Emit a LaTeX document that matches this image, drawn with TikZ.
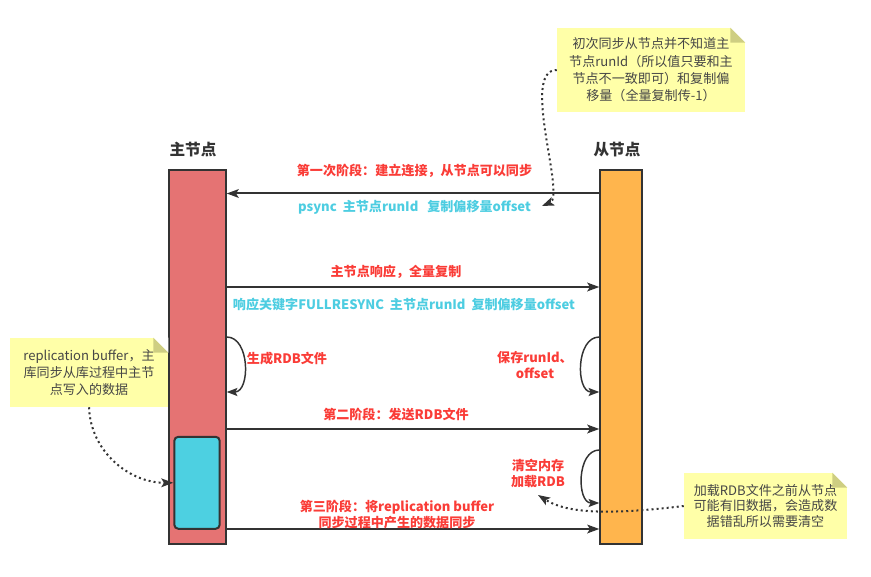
\documentclass[tikz,border=0pt]{standalone}
\usepackage{fontspec}
\setmainfont{Noto Sans CJK SC}
\usetikzlibrary{arrows.meta}
\definecolor{mstred}{RGB}{229,115,115}
\definecolor{slvorange}{RGB}{255,181,77}
\definecolor{bufcyan}{RGB}{77,208,225}
\definecolor{txtred}{RGB}{250,60,55}
\definecolor{txtcyan}{RGB}{77,205,225}
\definecolor{notebg}{RGB}{255,255,168}
\definecolor{notefold}{RGB}{206,206,130}
\definecolor{linedark}{RGB}{51,51,51}
\definecolor{notetext}{RGB}{70,70,70}

\begin{document}
\begin{tikzpicture}[
      x=0.75pt, y=-0.75pt,
      bar/.style={rectangle, draw=linedark, line width=1.5pt, inner sep=0pt, minimum height=280.5pt},
      head/.style={font=\fontsize{11.7}{14}\selectfont\bfseries, text=linedark},
      msg/.style={-{Stealth[length=9pt, width=6.5pt, inset=2pt]}, line width=1.5pt, color=linedark},
      selfloop/.style={-{Stealth[length=8pt, width=6pt, inset=1.5pt]}, line width=1.1pt, color=linedark, looseness=1.1},
      hint/.style={-{Stealth[length=9pt, width=6.5pt, inset=2pt]}, line width=1.5pt, dash pattern=on 1.5pt off 2.3pt, color=linedark},
      redlbl/.style={font=\fontsize{9.8}{12}\selectfont\bfseries, text=txtred, align=center},
      cyanlbl/.style={font=\fontsize{9.8}{12}\selectfont\bfseries, text=txtcyan, align=center},
      note/.style={rectangle, fill=notebg, inner sep=0pt, align=center, text=notetext, font=\fontsize{9.8}{13}\selectfont}
    ]
      \useasboundingbox (0,0) rectangle (871,577);

      % Master & Slave
      \node[bar, fill=mstred, minimum width=42.75pt] (master) at (197.2,357.2) {};
      \node[bar, fill=slvorange, minimum width=31.5pt] (slave) at (621.3,357.2) {};
      \node[rectangle, rounded corners=3pt, draw=linedark, line width=1.5pt, fill=bufcyan, minimum width=34pt, minimum height=69pt] (buffer) at (197,482.8) {};
      \node[head] (mlabel) at (193,150) {主节点};
      \node[head] (slabel) at (617,150) {从节点};

      % Notes
      \node[note, minimum width=141pt, minimum height=63pt] (topnote) at (651,70) {初次同步从节点并不知道主\\节点runId（所以值只要和主\\节点不一致即可）和复制偏\\移量（全量复制传-1）};
      \node[note, minimum width=118.5pt, minimum height=51.75pt] (bufnote) at (89,372.5) {replication buffer，主\\库同步从库过程中主节\\点写入的数据};
      \node[note, minimum width=122.25pt, minimum height=49.5pt, font=\fontsize{9.8}{11.4}\selectfont] (rdbnote) at (765.5,506) {加载RDB文件之前从节点\\可能有旧数据，会造成数\\据错乱所以需要清空};
      \foreach \n in {topnote,bufnote,rdbnote} {
        \fill[white] (\n.north east) ++(-15,0) -- (\n.north east) -- ++(0,15) -- cycle;
        \fill[notefold] (\n.north east) ++(-15,0) -- ++(0,15) -- ++(15,0) -- cycle;
      }

      % Stage 1
      \draw[msg] (slave.west |- 0,193.5) -- (master.east |- 0,193.5);
      \node[redlbl] (s1lbl) at (414.5,171) {第一次阶段：建立连接，从节点可以同步};
      \node[cyanlbl] (psynclbl) at (414.5,207) {psync\ \ 主节点runId\ \ \ 复制偏移量offset};

      \draw[msg] (master.east |- 0,287) -- (slave.west |- 0,287);
      \node[redlbl] (fulllbl) at (396,272) {主节点响应，全量复制};
      \node[cyanlbl] (resynclbl) at (404,305) {响应关键字FULLRESYNC\ \ 主节点runId\ \ 复制偏移量offset};

      % RDB generation / save
      \draw[selfloop] (master.east |- 0,337) to[out=0, in=0] (master.east |- 0,392);
      \node[redlbl] (genlbl) at (287,359) {生成RDB文件};
      \draw[selfloop] (slave.west |- 0,337) to[out=180, in=180] (slave.west |- 0,392);
      \node[redlbl] (savelbl) at (535,365) {保存runId、\\offset};

      % Stage 2
      \draw[msg] (master.east |- 0,429) -- (slave.west |- 0,429);
      \node[redlbl] (s2lbl) at (396,415) {第二阶段：发送RDB文件};
      \draw[selfloop] (slave.west |- 0,450) to[out=180, in=180] (slave.west |- 0,503);
      \node[redlbl] (loadlbl) at (538,474) {清空内存\\加载RDB};

      % Stage 3
      \draw[msg] (master.east |- 0,529) -- (slave.west |- 0,529);
      \node[redlbl] (s3lbl) at (397,514.5) {第三阶段：将replication buffer\\同步过程中产生的数据同步};

      % Hints
      \coordinate (psyncend) at (542,206);
      \coordinate (loadend) at (538,495);
      \draw[hint] (topnote.west) .. controls (520,70) and (566,196) .. (psyncend);
      \draw[hint] (bufnote.south) to[out=-88, in=180] (buffer.west);
      \draw[hint] (rdbnote.west) .. controls (600,516) and (565,512) .. (loadend);
    \end{tikzpicture}
\end{document}
